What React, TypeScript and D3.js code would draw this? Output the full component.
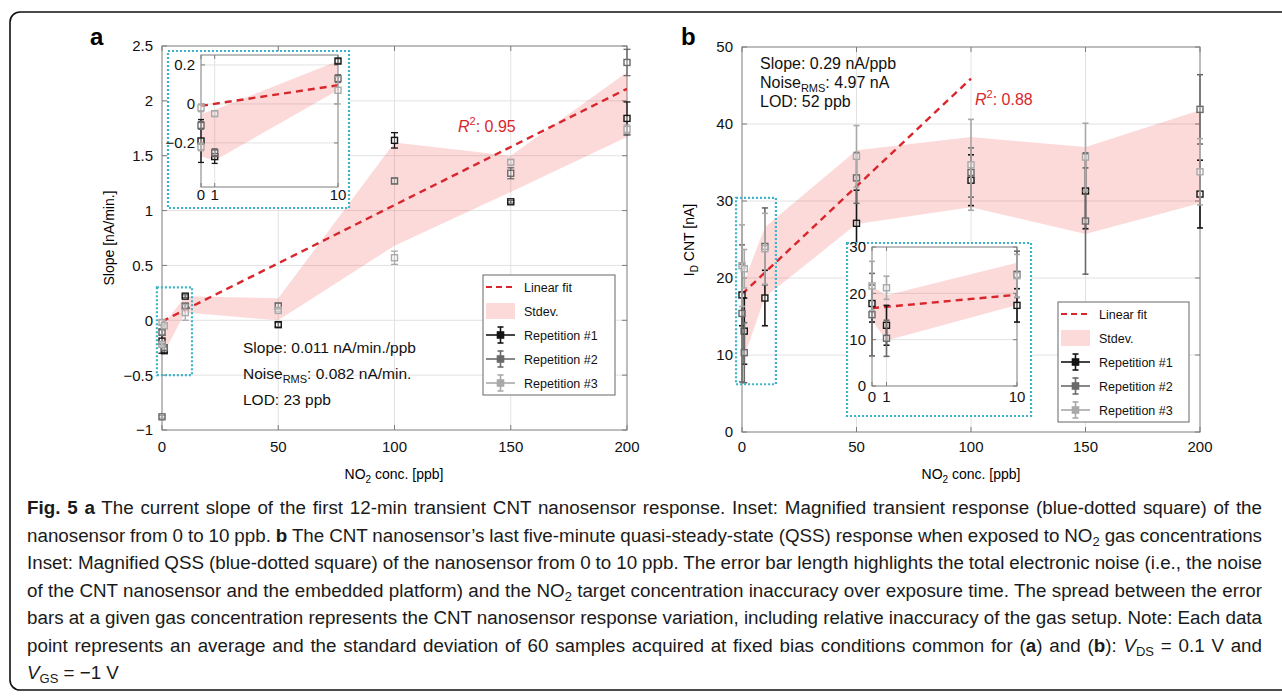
import React, { useLayoutEffect, useRef } from "react";
import * as d3 from "d3";

const FONT = "'Liberation Sans', Arial, Helvetica, sans-serif";

const concTicks = [0, 50, 100, 150, 200];
const insetTicks = [0, 1, 10];
const yTicksA = [-1, -0.5, 0, 0.5, 1, 1.5, 2, 2.5];
const yTicksAInset = [-0.2, 0, 0.2];
const yTicksB = [0, 10, 20, 30, 40, 50];
const yTicksBInset = [0, 10, 20, 30];

// [NO2 ppb, value, half error]
const slopeRep1 = [[0, -0.19, 0.11], [1, -0.27, 0.035], [10, 0.22, 0.012], [50, -0.04, 0.02], [100, 1.64, 0.07], [150, 1.08, 0.012], [200, 1.84, 0.15]];
const slopeRep2 = [[0, -0.11, 0.02], [0, -0.88, 0.012], [1, -0.25, 0.02], [10, 0.13, 0.02], [50, 0.13, 0.025], [100, 1.27, 0.025], [150, 1.34, 0.05], [200, 2.35, 0.12]];
const slopeRep3 = [[0, -0.02, 0.02], [0, -0.22, 0.02], [1, -0.05, 0.012], [10, 0.07, 0.07], [50, 0.09, 0.012], [100, 0.57, 0.06], [150, 1.44, 0.02], [200, 1.74, 0.04]];
// [ppb, lower, upper]
const slopeBand = [[0, -0.27, -0.05], [1, -0.29, -0.03], [10, 0.07, 0.22], [50, 0.0, 0.2], [100, 0.68, 1.62], [150, 1.17, 1.5], [200, 1.67, 2.26]];
const slopeFit = [-0.01, 0.0106]; // intercept, slope

const currentRep1 = [[0, 17.8, 4.0], [1, 13.1, 4.3], [10, 17.4, 3.6], [50, 27.1, 4.3], [100, 32.7, 3.3], [150, 31.3, 4.9], [200, 30.9, 4.4]];
const currentRep2 = [[0, 15.4, 8.9], [1, 10.3, 3.9], [10, 24.1, 5.0], [50, 33.0, 3.3], [100, 33.7, 3.2], [150, 27.4, 6.9], [200, 41.9, 4.5]];
const currentRep3 = [[0, 21.6, 5.3], [1, 21.2, 2.5], [10, 23.8, 4.6], [50, 35.8, 4.0], [100, 34.7, 5.9], [150, 35.7, 4.4], [200, 33.8, 4.3]];
const currentBand = [[0, 14.2, 21.5], [1, 9.8, 19.6], [10, 17.5, 26.6], [50, 27, 36.6], [100, 29.2, 38.3], [150, 25.7, 37], [200, 29.7, 41.8]];
const currentFit = [17.9, 0.28];
const currentFitInset = [16.8, 0.29];

const legendLabels = ["Linear fit", "Stdev.", "Repetition #1", "Repetition #2", "Repetition #3"];
const repColors = ["#151515", "#6a6a6a", "#a9a9a9"];
const RED = "#d9262c";
const PINK = "#ef4444";
const CYAN = "#3bb3c9";
const AXIS = "#7c7c7c";
const GRID = "#e2e2e2";

const fmt = (v) => (v < 0 ? "\u2212" + Math.abs(v) : String(v));

function Axes({ x, y, xt, yt, xg, yg, fs, tick = 5, gap = 8, xlabY }) {
  const [x0, x1] = x.range();
  const [y0, y1] = y.range();
  return (
    <g fontFamily={FONT} fontSize={fs} fill="#111">
      {xg.map((v) => (
        <line key={"xg" + v} x1={x(v)} x2={x(v)} y1={y1} y2={y0} stroke={GRID} />
      ))}
      {yg.map((v) => (
        <line key={"yg" + v} x1={x0} x2={x1} y1={y(v)} y2={y(v)} stroke={GRID} />
      ))}
      {xt.map((v) => (
        <g key={"xt" + v} stroke={AXIS}>
          <line x1={x(v)} x2={x(v)} y1={y0} y2={y0 - tick} />
          <line x1={x(v)} x2={x(v)} y1={y1} y2={y1 + tick} />
        </g>
      ))}
      {yt.map((v) => (
        <g key={"yt" + v} stroke={AXIS}>
          <line x1={x0} x2={x0 + tick} y1={y(v)} y2={y(v)} />
          <line x1={x1} x2={x1 - tick} y1={y(v)} y2={y(v)} />
        </g>
      ))}
      <rect x={x0} y={y1} width={x1 - x0} height={y0 - y1} fill="none" stroke={AXIS} />
      {xt.map((v) => (
        <text key={"xl" + v} x={x(v)} y={xlabY} textAnchor="middle" stroke="none">
          {fmt(v)}
        </text>
      ))}
      {yt.map((v) => (
        <text key={"yl" + v} x={x0 - gap} y={y(v)} dy="0.36em" textAnchor="end" stroke="none">
          {fmt(v)}
        </text>
      ))}
    </g>
  );
}

function Series({ data, x, y, color, cap = 8, size = 6, sw = 1.3 }) {
  return (
    <g stroke={color} fill="none">
      {data.map(([c, v, e], i) => {
        const cx = x(c);
        return (
          <g key={i}>
            <line x1={cx} x2={cx} y1={y(v - e)} y2={y(v + e)} strokeWidth={sw} />
            <line x1={cx - cap / 2} x2={cx + cap / 2} y1={y(v - e)} y2={y(v - e)} strokeWidth={sw} />
            <line x1={cx - cap / 2} x2={cx + cap / 2} y1={y(v + e)} y2={y(v + e)} strokeWidth={sw} />
            <rect x={cx - size / 2} y={y(v) - size / 2} width={size} height={size} strokeWidth={1.4} fill="#fff" fillOpacity={0.35} />
          </g>
        );
      })}
    </g>
  );
}

function Band({ data, x, y }) {
  const area = d3.area().x((d) => x(d[0])).y0((d) => y(d[1])).y1((d) => y(d[2]));
  return <path d={area(data)} fill={PINK} fillOpacity={0.2} stroke="none" />;
}

function Fit({ fit, x, y, from, to }) {
  const line = d3.line().x((d) => x(d)).y((d) => y(fit[0] + fit[1] * d));
  return <path d={line([from, to])} fill="none" stroke={RED} strokeWidth={2.4} strokeDasharray="7,5" />;
}

function Legend({ x, y, w, h, row, fs }) {
  return (
    <g fontFamily={FONT} fontSize={fs}>
      <rect x={x} y={y} width={w} height={h} fill="#fff" stroke="#666" />
      {legendLabels.map((lab, i) => {
        const cy = y + 12 + i * row;
        const sx0 = x + 3;
        const sx1 = x + 32;
        const mid = (sx0 + sx1) / 2;
        let sym;
        if (i === 0) sym = <line x1={sx0} x2={sx1} y1={cy} y2={cy} stroke={RED} strokeWidth={2.2} strokeDasharray="6,4" />;
        else if (i === 1) sym = <rect x={sx0} y={cy - 8} width={sx1 - sx0} height={16} fill={PINK} fillOpacity={0.2} />;
        else {
          const c = repColors[i - 2];
          sym = (
            <g stroke={c} strokeWidth={1.6}>
              <line x1={sx0} x2={sx1} y1={cy} y2={cy} />
              <line x1={mid} x2={mid} y1={cy - 8} y2={cy + 8} />
              <line x1={mid - 3} x2={mid + 3} y1={cy - 8} y2={cy - 8} />
              <line x1={mid - 3} x2={mid + 3} y1={cy + 8} y2={cy + 8} />
              <rect x={mid - 3} y={cy - 3} width={6} height={6} fill={c} />
            </g>
          );
        }
        return (
          <g key={lab}>
            {sym}
            <text x={x + 41} y={cy} dy="0.36em" fill="#111">
              {lab}
            </text>
          </g>
        );
      })}
    </g>
  );
}

const CAP_W = 1235;

export default function App() {
  const capRefs = useRef([]);

  // justify caption lines by adjusting the word spacing
  useLayoutEffect(() => {
    capRefs.current.forEach((el) => {
      if (!el) return;
      el.setAttribute("word-spacing", "0");
      const len = el.getComputedTextLength();
      const spaces = (el.textContent.match(/ /g) || []).length;
      if (spaces > 0) el.setAttribute("word-spacing", String((CAP_W - len) / spaces));
    });
  }, []);

  // panel a
  const xA = d3.scaleLinear().domain([0, 200]).range([162, 627]);
  const yA = d3.scaleLinear().domain([-1, 2.5]).range([430, 46]);
  const xAi = d3.scaleLinear().domain([0, 10]).range([201, 338]);
  const yAi = d3.scaleLinear().domain([-0.426, 0.251]).range([187, 55]);
  // panel b
  const xB = d3.scaleLinear().domain([0, 200]).range([742, 1200]);
  const yB = d3.scaleLinear().domain([0, 50]).range([432, 47]);
  const xBi = d3.scaleLinear().domain([0, 10]).range([872, 1017]);
  const yBi = d3.scaleLinear().domain([0, 30]).range([386, 247]);

  const slopeReps = [slopeRep1, slopeRep2, slopeRep3];
  const currentReps = [currentRep1, currentRep2, currentRep3];
  const inA = (d) => d[0] <= 10 && d[1] > -0.43 && d[1] < 0.26;
  const inB = (d) => d[0] <= 10;

  const zoomBox = (x, y, c0, c1, v0, v1) => (
    <rect x={x(c0)} y={y(v1)} width={x(c1) - x(c0)} height={y(v0) - y(v1)} fill="none" stroke={CYAN} strokeWidth={2.2} strokeDasharray="2,2" />
  );

  const capRef = (i) => (el) => {
    capRefs.current[i] = el;
  };

  return (
    <svg width={1282} height={697} style={{ position: "absolute", left: 0, top: 0, background: "#fff" }}>
      <defs>
        <clipPath id="clipA">
          <rect x={162} y={46} width={465} height={384} />
        </clipPath>
        <clipPath id="clipAi">
          <rect x={201} y={55} width={137} height={132} />
        </clipPath>
        <clipPath id="clipB">
          <rect x={742} y={47} width={458} height={385} />
        </clipPath>
        <clipPath id="clipBi">
          <rect x={872} y={247} width={145} height={139} />
        </clipPath>
      </defs>
      <path d="M1300,12 H20 A10,10 0 0 0 10,22 V680 A10,10 0 0 0 20,690 H1300" fill="none" stroke="#111" strokeWidth={1.6} />

      {/* ---------- panel a ---------- */}
      <text x={90} y={45} fontFamily={FONT} fontSize={24} fontWeight="bold">a</text>
      <Axes x={xA} y={yA} xt={concTicks} yt={yTicksA} xg={[50, 100, 150]} yg={yTicksA.slice(1, -1)} fs={15} xlabY={452} gap={9} />
      <g clipPath="url(#clipA)">
        <Band data={slopeBand} x={xA} y={yA} />
        <Fit fit={slopeFit} x={xA} y={yA} from={0} to={200} />
      </g>
      {slopeReps.map((r, i) => (
        <Series key={i} data={r} x={xA} y={yA} color={repColors[i]} cap={7} size={6} />
      ))}
      {zoomBox(xA, yA, -2.2, 12.9, -0.5, 0.3)}
      <text x={394} y={479} textAnchor="middle" fontFamily={FONT} fontSize={14}>
        NO<tspan fontSize={10} dy={4}>2</tspan>
        <tspan dy={-4}> conc. [ppb]</tspan>
      </text>
      <text transform="translate(114,238) rotate(-90)" textAnchor="middle" fontFamily={FONT} fontSize={14}>
        Slope [nA/min.]
      </text>
      <g fontFamily={FONT} fontSize={15.5} fill="#111">
        <text x={243} y={353}>Slope: 0.011 nA/min./ppb</text>
        <text x={243} y={379}>
          Noise<tspan fontSize={11} dy={4}>RMS</tspan>
          <tspan dy={-4}>: 0.082 nA/min.</tspan>
        </text>
        <text x={243} y={405}>LOD: 23 ppb</text>
      </g>
      <text x={458} y={132} fontFamily={FONT} fontSize={16} fill={RED}>
        <tspan fontStyle="italic">R</tspan>
        <tspan fontSize={11} dy={-7}>2</tspan>
        <tspan dy={7}>: 0.95</tspan>
      </text>
      <Legend x={483} y={275} w={132} h={120} row={24} fs={12.5} />

      {/* inset a */}
      <rect x={168} y={51} width={181} height={157} fill="#fff" stroke={CYAN} strokeWidth={2.2} strokeDasharray="2,2" />
      <rect x={201} y={55} width={137} height={132} fill="#fff" />
      <Axes x={xAi} y={yAi} xt={insetTicks} yt={yTicksAInset} xg={[1]} yg={yTicksAInset} fs={15} xlabY={200} gap={6} tick={4} />
      <g clipPath="url(#clipAi)">
        <Band data={slopeBand.filter((d) => d[0] <= 10)} x={xAi} y={yAi} />
        <Fit fit={slopeFit} x={xAi} y={yAi} from={0} to={10} />
      </g>
      {slopeReps.map((r, i) => (
        <Series key={i} data={r.filter(inA)} x={xAi} y={yAi} color={repColors[i]} cap={6} size={6} />
      ))}

      {/* ---------- panel b ---------- */}
      <text x={681} y={45} fontFamily={FONT} fontSize={24} fontWeight="bold">b</text>
      <Axes x={xB} y={yB} xt={concTicks} yt={yTicksB} xg={[50, 100, 150]} yg={yTicksB.slice(1, -1)} fs={15} xlabY={452} gap={9} />
      <g clipPath="url(#clipB)">
        <Band data={currentBand} x={xB} y={yB} />
        <Fit fit={currentFit} x={xB} y={yB} from={0} to={100} />
      </g>
      {currentReps.map((r, i) => (
        <Series key={i} data={r} x={xB} y={yB} color={repColors[i]} cap={6} size={6} sw={1.6} />
      ))}
      {zoomBox(xB, yB, -2.6, 14.8, 6.2, 30.4)}
      <text x={971} y={479} textAnchor="middle" fontFamily={FONT} fontSize={14}>
        NO<tspan fontSize={10} dy={4}>2</tspan>
        <tspan dy={-4}> conc. [ppb]</tspan>
      </text>
      <text transform="translate(694,240) rotate(-90)" textAnchor="middle" fontFamily={FONT} fontSize={14}>
        I<tspan fontSize={10} dy={4}>D</tspan>
        <tspan dy={-4}> CNT [nA]</tspan>
      </text>
      <g fontFamily={FONT} fontSize={16} fill="#111">
        <text x={760} y={69}>Slope: 0.29 nA/ppb</text>
        <text x={760} y={88}>
          Noise<tspan fontSize={11} dy={4}>RMS</tspan>
          <tspan dy={-4}>: 4.97 nA</tspan>
        </text>
        <text x={760} y={107}>LOD: 52 ppb</text>
      </g>
      <text x={975} y={105} fontFamily={FONT} fontSize={16} fill={RED}>
        <tspan fontStyle="italic">R</tspan>
        <tspan fontSize={11} dy={-7}>2</tspan>
        <tspan dy={7}>: 0.88</tspan>
      </text>
      <Legend x={1058} y={302} w={131} h={120} row={24} fs={12.5} />

      {/* inset b */}
      <rect x={847} y={243} width={184} height={173} fill="#fff" stroke={CYAN} strokeWidth={2.2} strokeDasharray="2,2" />
      <Axes x={xBi} y={yBi} xt={insetTicks} yt={yTicksBInset} xg={[1]} yg={[10, 20]} fs={15} xlabY={402} gap={6} tick={4} />
      <g clipPath="url(#clipBi)">
        <Band data={currentBand.filter((d) => d[0] <= 10)} x={xBi} y={yBi} />
        <Fit fit={currentFitInset} x={xBi} y={yBi} from={0} to={10} />
      </g>
      {currentReps.map((r, i) => (
        <Series key={i} data={r.filter(inB)} x={xBi} y={yBi} color={repColors[i]} cap={6} size={6} sw={1.6} />
      ))}

      {/* ---------- caption ---------- */}
      <g fontFamily={FONT} fontSize={18.8} fill="#1a1a1a">
        <text ref={capRef(0)} x={27} y={514}>
          <tspan fontWeight="bold">Fig. 5 a</tspan> The current slope of the first 12-min transient CNT nanosensor response. Inset: Magnified transient response (blue-dotted square) of the
        </text>
        <text ref={capRef(1)} x={27} y={542}>
          nanosensor from 0 to 10 ppb. <tspan fontWeight="bold">b</tspan> The CNT nanosensor’s last five-minute quasi-steady-state (QSS) response when exposed to NO
          <tspan fontSize={13} dy={4}>2</tspan>
          <tspan dy={-4}> gas concentrations</tspan>
        </text>
        <text ref={capRef(2)} x={27} y={569}>
          Inset: Magnified QSS (blue-dotted square) of the nanosensor from 0 to 10 ppb. The error bar length highlights the total electronic noise (i.e., the noise
        </text>
        <text ref={capRef(3)} x={27} y={597}>
          of the CNT nanosensor and the embedded platform) and the NO<tspan fontSize={13} dy={4}>2</tspan>
          <tspan dy={-4}> target concentration inaccuracy over exposure time. The spread between the error</tspan>
        </text>
        <text ref={capRef(4)} x={27} y={624}>
          bars at a given gas concentration represents the CNT nanosensor response variation, including relative inaccuracy of the gas setup. Note: Each data
        </text>
        <text ref={capRef(5)} x={27} y={652}>
          point represents an average and the standard deviation of 60 samples acquired at fixed bias conditions common for (<tspan fontWeight="bold">a</tspan>) and (
          <tspan fontWeight="bold">b</tspan>): <tspan fontStyle="italic">V</tspan>
          <tspan fontSize={13} dy={4}>DS</tspan>
          <tspan dy={-4}> = 0.1 V and</tspan>
        </text>
        <text x={27} y={679}>
          <tspan fontStyle="italic">V</tspan>
          <tspan fontSize={13} dy={4}>GS</tspan>
          <tspan dy={-4}> = −1 V</tspan>
        </text>
      </g>
    </svg>
  );
}
